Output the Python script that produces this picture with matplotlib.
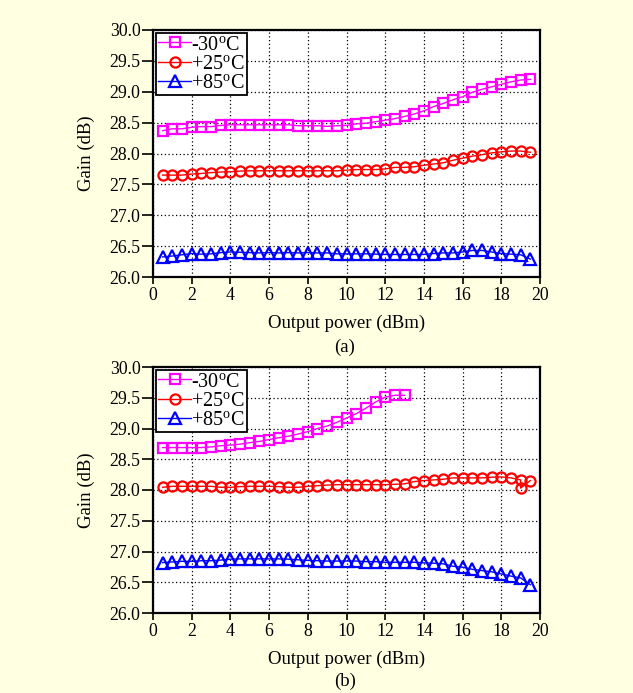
import matplotlib
matplotlib.use("Agg")
import matplotlib.pyplot as plt
import numpy as np

plt.rcParams['font.family'] = ['Liberation Serif', 'DejaVu Serif']
plt.rcParams['mathtext.fontset'] = 'custom'
plt.rcParams['mathtext.rm'] = 'Liberation Serif'
plt.rcParams['mathtext.it'] = 'Liberation Serif:italic'

# ---------------- data ----------------
x_a = [0.5, 1.0, 1.5, 2.0, 2.5, 3.0, 3.5, 4.0, 4.5, 5.0, 5.5, 6.0, 6.5, 7.0, 7.5,
       8.0, 8.5, 9.0, 9.5, 10.0, 10.5, 11.0, 11.5, 12.0, 12.5, 13.0, 13.5, 14.0,
       14.5, 15.0, 15.5, 16.0, 16.5, 17.0, 17.5, 18.0, 18.5, 19.0, 19.5]

a_m30 = [28.37, 28.40, 28.40, 28.425, 28.435, 28.435, 28.455, 28.465, 28.465, 28.465,
         28.465, 28.465, 28.465, 28.465, 28.45, 28.45, 28.45, 28.44, 28.45, 28.455,
         28.48, 28.49, 28.515, 28.54, 28.565, 28.60, 28.64, 28.69, 28.76, 28.81,
         28.87, 28.92, 28.99, 29.04, 29.08, 29.12, 29.16, 29.19, 29.20]
a_p25 = [27.65, 27.65, 27.65, 27.667, 27.677, 27.69, 27.70, 27.705, 27.715, 27.72,
         27.72, 27.72, 27.72, 27.72, 27.72, 27.72, 27.72, 27.72, 27.72, 27.73,
         27.74, 27.74, 27.74, 27.75, 27.775, 27.775, 27.785, 27.81, 27.83, 27.85,
         27.89, 27.925, 27.957, 27.98, 28.01, 28.027, 28.04, 28.04, 28.02]
a_p85 = [26.325, 26.34, 26.36, 26.38, 26.37, 26.375, 26.395, 26.405, 26.40, 26.395,
         26.39, 26.395, 26.39, 26.395, 26.39, 26.395, 26.39, 26.39, 26.375, 26.375,
         26.375, 26.375, 26.37, 26.365, 26.365, 26.365, 26.365, 26.365, 26.38, 26.39,
         26.39, 26.405, 26.43, 26.43, 26.405, 26.38, 26.37, 26.36, 26.29]

x_b_m30 = [0.5, 1.0, 1.5, 2.0, 2.5, 3.0, 3.5, 4.0, 4.5, 5.0, 5.5, 6.0, 6.5, 7.0,
           7.5, 8.0, 8.5, 9.0, 9.5, 10.0, 10.5, 11.0, 11.5, 12.0, 12.5, 13.0]
b_m30 = [28.69, 28.69, 28.69, 28.69, 28.69, 28.70, 28.72, 28.73, 28.745, 28.77,
         28.79, 28.82, 28.85, 28.875, 28.91, 28.95, 29.0, 29.04, 29.10, 29.17,
         29.24, 29.33, 29.43, 29.51, 29.54, 29.54]

x_b_p25 = [0.5, 1.0, 1.5, 2.0, 2.5, 3.0, 3.5, 4.0, 4.5, 5.0, 5.5, 6.0, 6.5, 7.0,
           7.5, 8.0, 8.5, 9.0, 9.5, 10.0, 10.5, 11.0, 11.5, 12.0, 12.5, 13.0, 13.5,
           14.0, 14.5, 15.0, 15.5, 16.0, 16.5, 17.0, 17.5, 18.0, 18.5, 19.0, 19.0, 19.5]
b_p25 = [28.044, 28.06, 28.06, 28.06, 28.06, 28.06, 28.044, 28.044, 28.055, 28.06,
         28.06, 28.06, 28.055, 28.044, 28.044, 28.06, 28.07, 28.08, 28.087, 28.087,
         28.087, 28.087, 28.087, 28.087, 28.093, 28.10, 28.137, 28.153, 28.164, 28.175,
         28.197, 28.197, 28.197, 28.197, 28.208, 28.213, 28.197, 28.164, 28.03, 28.153]

x_b_p85 = x_a
b_p85 = [26.82, 26.83, 26.84, 26.84, 26.85, 26.85, 26.86, 26.875, 26.88, 26.88,
         26.88, 26.88, 26.88, 26.875, 26.865, 26.855, 26.85, 26.845, 26.845, 26.845,
         26.845, 26.835, 26.835, 26.825, 26.825, 26.825, 26.825, 26.815, 26.81, 26.80,
         26.76, 26.745, 26.71, 26.69, 26.67, 26.635, 26.60, 26.57, 26.46]

labels = ['-30$^{\\rm o}$C', '+25$^{\\rm o}$C', '+85$^{\\rm o}$C']
colors = ['#FF00FF', '#FF0000', '#0000FF']
markers = ['s', 'o', '^']
msizes = [7, 7.3, 8.3]

xticks = [0, 2, 4, 6, 8, 10, 12, 14, 16, 18, 20]
yticks = [26.0, 26.5, 27.0, 27.5, 28.0, 28.5, 29.0, 29.5, 30.0]

bg = '#FFFFE2'
fig = plt.figure(figsize=(6.33, 6.93), dpi=100)
fig.patch.set_facecolor(bg)

W, H = 633, 693
def axes_px(l, r, t, b):
    return fig.add_axes([l / W, 1 - b / H, (r - l) / W, (b - t) / H])

ax_a = axes_px(153, 540, 30, 277)
ax_b = axes_px(153, 540, 367, 613)

series = {
    ax_a: [(x_a, a_m30), (x_a, a_p25), (x_a, a_p85)],
    ax_b: [(x_b_m30, b_m30), (x_b_p25, b_p25), (x_b_p85, b_p85)],
}

for ax, data in series.items():
    ax.set_facecolor('white')
    for (xs, ys), c, m, lab, ms in zip(data, colors, markers, labels, msizes):
        ax.plot(xs, ys, color=c, lw=1.0, marker=m, ms=ms, mfc='none',
                mec=c, mew=1.6, label=lab, clip_on=False, zorder=3)
    ax.set_xlim(0, 20)
    ax.set_ylim(26.0, 30.0)
    ax.set_xticks(xticks)
    ax.set_yticks(yticks)
    ax.set_yticklabels([f'{v:.1f}' for v in yticks])
    ax.grid(True, color='black', linestyle=(0, (1, 2)), linewidth=0.9)
    ax.set_axisbelow(True)
    for s in ax.spines.values():
        s.set_linewidth(1.6)
        s.set_color('black')
    ax.tick_params(axis='x', direction='out', length=5, width=1.2, labelsize=12.8,
                   top=False, pad=2)
    ax.tick_params(axis='y', direction='out', length=8, width=1.2, labelsize=12.8,
                   right=False, pad=1)
    ax.set_xlabel('Output power (dBm)', fontsize=13.5, labelpad=8)
    ax.set_ylabel('Gain (dB)', fontsize=13.5, labelpad=10)
    leg = ax.legend(loc='upper left', fontsize=14.5, frameon=True, fancybox=False,
                    edgecolor='black', framealpha=1, borderpad=0.12,
                    handlelength=1.6, handletextpad=0.0, labelspacing=0.0,
                    borderaxespad=0.15, numpoints=1)
    leg.get_frame().set_linewidth(1.3)

fig.text(345 / W, 1 - 347 / H, '(a)', ha='center', va='center', fontsize=13.5)
fig.text(345 / W, 1 - 681 / H, '(b)', ha='center', va='center', fontsize=13.5)

fig.savefig('out.png', dpi=100, facecolor=bg)
